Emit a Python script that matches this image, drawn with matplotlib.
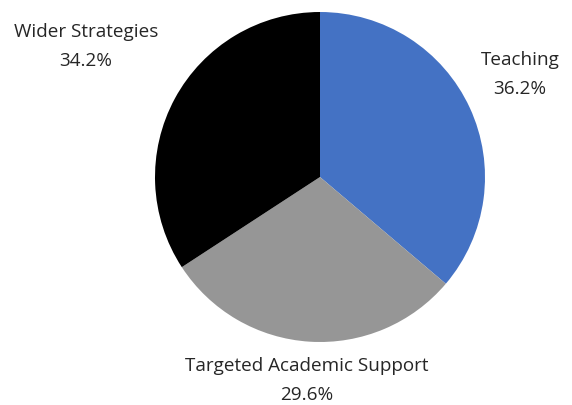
import matplotlib
matplotlib.use("Agg")
import matplotlib.pyplot as plt

labels = ["Teaching", "Targeted Academic Support", "Wider Strategies"]
shares = [36.2, 29.6, 34.2]
colors = ["#4472c4", "#969696", "#000000"]

# where each caption sits, in pixels from the top-left corner
label_pos = [(520, 60), (307, 366), (86, 32)]

plt.rcParams["font.family"] = ["Open Sans", "DejaVu Sans"]

W, H = 572, 405
fig = plt.figure(figsize=(W / 100, H / 100), dpi=100)
ax = fig.add_axes([0, 0, 1, 1])

ax.pie(shares, colors=colors, startangle=90, counterclock=False,
       center=(320, H - 177), radius=165, frame=True,
       wedgeprops=dict(linewidth=0))
ax.set_xlim(0, W)
ax.set_ylim(0, H)
ax.set_aspect("equal")
ax.axis("off")

for name, val, (px, py) in zip(labels, shares, label_pos):
    ax.text(px, H - py, name, ha="center", va="center", fontsize=13.6, color="#262626")
    ax.text(px, H - py - 29, f"{val:.1f}%", ha="center", va="center", fontsize=13.6, color="#262626")

fig.savefig("out.png", dpi=100)
